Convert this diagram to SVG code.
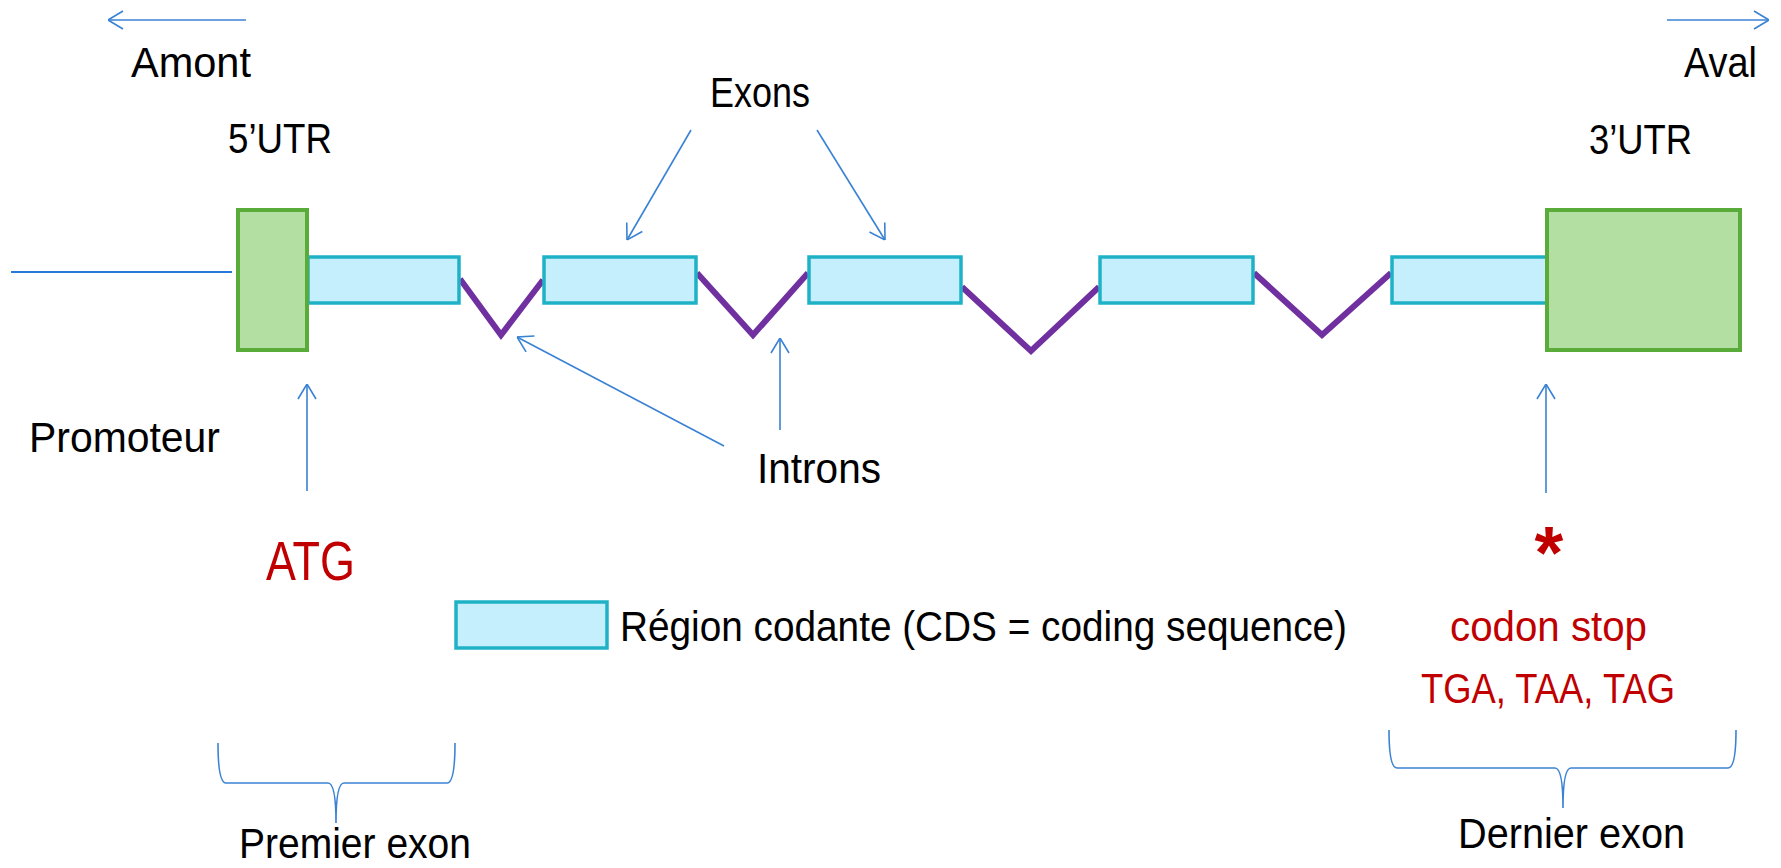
<svg xmlns="http://www.w3.org/2000/svg" width="1781" height="868" viewBox="0 0 1781 868">
  <style>
    .lbl { font-family: "Liberation Sans", Arial, sans-serif; font-size: 42px; fill: #000000; }
    .red { font-family: "Liberation Sans", Arial, sans-serif; font-size: 43px; fill: #c00000; }
    .utr { fill: #b3dfa3; stroke: #5aac3a; stroke-width: 4; }
    .cds { fill: #c6effd; stroke: #1fb2c6; stroke-width: 3.5; }
    .intron { fill: none; stroke: #7030a0; stroke-width: 6; stroke-linejoin: miter; }
    .arrow { fill: none; stroke: #3a82d4; stroke-width: 1.6; }
    .brace { fill: none; stroke: #3a82d4; stroke-width: 1.6; }
  </style>
  <defs>
    <marker id="head" viewBox="0 0 16 20" refX="16" refY="10" markerWidth="16" markerHeight="20" markerUnits="userSpaceOnUse" orient="auto">
      <path d="M1,1 L16,10 L1,19" fill="none" stroke="#3a82d4" stroke-width="1.6"/>
    </marker>
  </defs>

  <rect width="1781" height="868" fill="#ffffff"/>

  <!-- upstream DNA line leading to the promoter -->
  <g id="promoter-line">
    <line x1="11" y1="272" x2="232" y2="272" stroke="#2878d8" stroke-width="2"/>
  </g>

  <!-- introns -->
  <g id="introns">
    <polyline class="intron" points="460,279 501,335 543,280"/>
    <polyline class="intron" points="697,273 753,335 808,273"/>
    <polyline class="intron" points="962,287 1031,351 1099,287"/>
    <polyline class="intron" points="1254,273 1322,335 1391,273"/>
  </g>

  <!-- coding exons -->
  <g id="cds1"><rect class="cds" x="308" y="257" width="151" height="46"/></g>
  <g id="cds2"><rect class="cds" x="544" y="257" width="152" height="46"/></g>
  <g id="cds3"><rect class="cds" x="809" y="257" width="152" height="46"/></g>
  <g id="cds4"><rect class="cds" x="1100" y="257" width="153" height="46"/></g>
  <g id="cds5"><rect class="cds" x="1392" y="257" width="155" height="46"/></g>

  <!-- untranslated regions -->
  <g id="utr5"><rect class="utr" x="238" y="210" width="69" height="140"/></g>
  <g id="utr3"><rect class="utr" x="1547" y="210" width="193" height="140"/></g>

  <!-- legend -->
  <g id="legend">
    <rect class="cds" x="456" y="602" width="151" height="46"/>
    <text class="lbl" x="620" y="641" textLength="727" lengthAdjust="spacingAndGlyphs">Région codante (CDS = coding sequence)</text>
  </g>

  <!-- arrows and braces -->
  <g id="connectors">
    <line class="arrow" x1="246" y1="20" x2="108" y2="20" marker-end="url(#head)"/>
    <line class="arrow" x1="1667" y1="20" x2="1769" y2="20" marker-end="url(#head)"/>
    <line class="arrow" x1="691" y1="130" x2="627" y2="240" marker-end="url(#head)"/>
    <line class="arrow" x1="817" y1="130" x2="885" y2="240" marker-end="url(#head)"/>
    <line class="arrow" x1="724" y1="446" x2="517" y2="337" marker-end="url(#head)"/>
    <line class="arrow" x1="780" y1="430" x2="780" y2="338" marker-end="url(#head)"/>
    <line class="arrow" x1="307" y1="491" x2="307" y2="384" marker-end="url(#head)"/>
    <line class="arrow" x1="1546" y1="493" x2="1546" y2="384" marker-end="url(#head)"/>
    <path class="brace" d="M218,743 Q218,783 226,783 L328,783 Q336,783 336,823 Q336,783 344,783 L447,783 Q455,783 455,743"/>
    <path class="brace" d="M1389,730 Q1389,768 1397,768 L1555,768 Q1563,768 1563,808 Q1563,768 1571,768 L1728,768 Q1736,768 1736,730"/>
  </g>

  <!-- labels -->
  <g id="labels">
    <text class="lbl" x="131" y="77" textLength="120" lengthAdjust="spacingAndGlyphs">Amont</text>
    <text class="lbl" x="1684" y="77" textLength="73" lengthAdjust="spacingAndGlyphs">Aval</text>
    <text class="lbl" x="228" y="153" textLength="104" lengthAdjust="spacingAndGlyphs">5’UTR</text>
    <text class="lbl" x="1589" y="154" textLength="103" lengthAdjust="spacingAndGlyphs">3’UTR</text>
    <text class="lbl" x="710" y="107" textLength="100" lengthAdjust="spacingAndGlyphs">Exons</text>
    <text class="lbl" x="29" y="452" textLength="191" lengthAdjust="spacingAndGlyphs">Promoteur</text>
    <text class="lbl" x="757" y="483" textLength="124" lengthAdjust="spacingAndGlyphs">Introns</text>
    <text class="lbl" x="239" y="858" textLength="232" lengthAdjust="spacingAndGlyphs">Premier exon</text>
    <text class="lbl" x="1458" y="848" textLength="227" lengthAdjust="spacingAndGlyphs">Dernier exon</text>
    <text class="red" x="266" y="580" style="font-size:56px" textLength="89" lengthAdjust="spacingAndGlyphs">ATG</text>
    <text class="red" x="1549" y="578" text-anchor="middle" style="font-size:74px;font-weight:bold">*</text>
    <text class="red" x="1450" y="641" textLength="197" lengthAdjust="spacingAndGlyphs">codon stop</text>
    <text class="red" x="1421" y="703" textLength="254" lengthAdjust="spacingAndGlyphs">TGA, TAA, TAG</text>
  </g>
</svg>
